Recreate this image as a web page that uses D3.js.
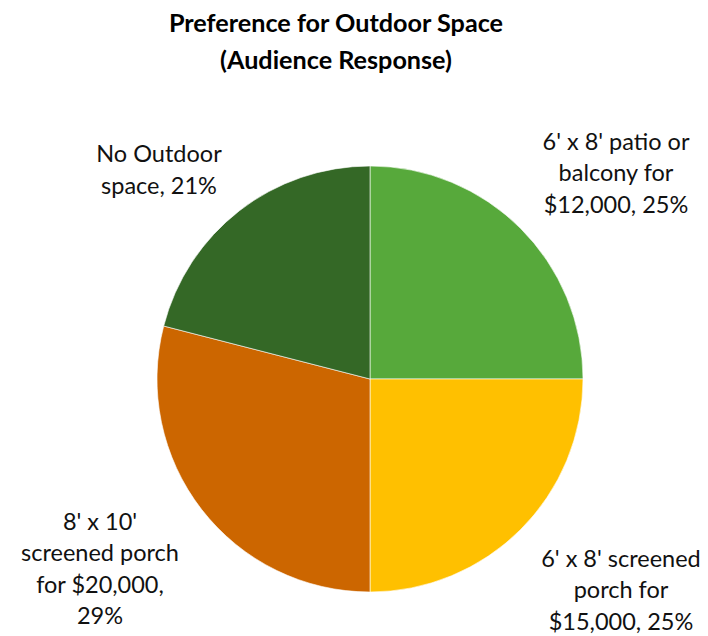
<!DOCTYPE html>
<html>
<head>
<meta charset="utf-8">
<script src="https://cdn.jsdelivr.net/npm/d3@7"></script>
<style>
  html, body { margin: 0; padding: 0; background: #fff; }
  svg { display: block; }
</style>
</head>
<body>
<div id="chart"></div>
<script>
// Survey answers, clockwise from 12 o'clock
const categories = [
  "6' x 8' patio or balcony for $12,000",
  "6' x 8' screened porch for $15,000",
  "8' x 10' screened porch for $20,000",
  "No Outdoor space"
];
const shares = [25, 25, 29, 21];
// Wrapped label lines for each slice
const labelLines = [
  ["6' x 8' patio or", "balcony for", "$12,000, 25%"],
  ["6' x 8' screened", "porch for", "$15,000, 25%"],
  ["8' x 10'", "screened porch", "for $20,000,", "29%"],
  ["No Outdoor", "space, 21%"]
];
const titleLines = ["Preference for Outdoor Space", "(Audience Response)"];

const colors = ["#57A93B", "#FFC000", "#CC6600", "#346826"];
// centre of each label block (x, y of the block's middle)
const labelPos = [[616, 173], [621, 590], [100, 569], [159, 170]];

const W = 708, H = 636;
const cx = 370, cy = 379, R = 213;
const fontFamily = "Lato, 'Open Sans', 'Liberation Sans', sans-serif";

const svg = d3.select("#chart").append("svg")
  .attr("width", W).attr("height", H);

const data = categories.map((c, i) => ({ name: c, value: shares[i], i }));

const pie = d3.pie().value(d => d.value).sort(null);
const arc = d3.arc().innerRadius(0).outerRadius(R);

svg.append("g")
  .attr("transform", `translate(${cx},${cy})`)
  .selectAll("path")
  .data(pie(data))
  .join("path")
  .attr("d", arc)
  .attr("fill", d => colors[d.data.i])
  .attr("stroke", "#ffffff")
  .attr("stroke-width", 0.6);

// title
svg.append("text")
  .attr("text-anchor", "middle")
  .attr("font-family", fontFamily)
  .attr("font-weight", 700)
  .attr("font-size", 25.2)
  .attr("fill", "#000")
  .selectAll("tspan")
  .data(titleLines)
  .join("tspan")
  .attr("x", 336)
  .attr("y", (d, i) => 32 + i * 37)
  .text(d => d);

// slice labels
const lineH = 31.5;
const labels = svg.append("g")
  .attr("font-family", fontFamily)
  .attr("font-size", 23.5)
  .attr("fill", "#111");

labelLines.forEach((lines, k) => {
  const [lx, ly] = labelPos[k];
  const top = ly - (lines.length - 1) * lineH / 2;
  labels.append("text")
    .attr("text-anchor", "middle")
    .selectAll("tspan")
    .data(lines)
    .join("tspan")
    .attr("x", lx)
    .attr("y", (d, i) => top + i * lineH)
    .attr("dy", "0.35em")
    .text(d => d);
});
</script>
</body>
</html>
